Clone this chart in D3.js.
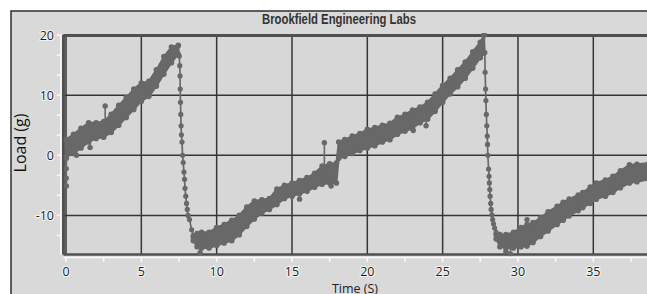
<!DOCTYPE html>
<html><head><meta charset="utf-8">
<script src="https://cdn.jsdelivr.net/npm/d3@7"></script>
<style>html,body{margin:0;padding:0;background:#fff;overflow:hidden}svg{display:block}</style>
</head><body>
<svg id="c" width="647" height="294"></svg>
<script>
// ---- data ----
const xTicks = [0, 5, 10, 15, 20, 25, 30, 35];
const yTicks = [-10, 0, 10, 20];

// ramp 1 (noisy band: low / high envelope)
const band1Time = [0, 0.5, 1, 1.5, 2, 2.5, 3, 3.5, 4, 4.5, 5, 5.5, 6, 6.5, 7, 7.45];
const band1Low  = [-0.3, 0.3, 1.2, 2.2, 2.8, 3, 3.8, 5, 6.3, 7.6, 9, 9.8, 11.5, 13.5, 15.4, 16.8];
const band1High = [2.6, 3.5, 4.5, 5.4, 5.4, 5.6, 6.8, 8.3, 9.6, 11, 12, 12.3, 14.2, 16.4, 18, 18.3];

// ramp 2
const band2Time = [8.45, 8.7, 9, 9.5, 10, 10.5, 11, 11.5, 12, 12.5, 13, 13.5, 14, 14.5, 15, 15.5, 16, 16.5, 17, 17.5, 17.95, 18.1, 18.5, 19, 19.5, 20, 20.5, 21, 21.5, 22, 22.5, 23, 23.5, 24, 24.5, 25, 25.5, 26, 26.5, 27, 27.5, 27.75];
const band2Low  = [-14.2, -15.2, -15.4, -15.4, -15, -14.6, -14.2, -13.2, -11.8, -10.6, -9.6, -9, -8.2, -7.2, -6.8, -6.4, -6, -5.3, -4.8, -4.6, -4.6, -0.5, -0.2, 0.3, 0.8, 1.2, 1.6, 2.2, 2.6, 3.5, 4, 4.5, 5.4, 6, 7.3, 8.8, 10.2, 11.4, 12.8, 14.5, 16.2, 17];
const band2High = [-13.6, -13, -12.8, -12.8, -12, -11.5, -10.8, -10, -8.6, -7.6, -7.4, -7.2, -5.6, -5, -4.6, -4.2, -3.7, -3, -1.8, -1.4, -1.3, 2.2, 2.6, 3.2, 3.6, 4.3, 4.6, 5, 5.3, 6.3, 6.8, 7.5, 8, 8.8, 10.2, 11.6, 12.8, 14.2, 15.5, 17.2, 18.8, 20];

// ramp 3
const band3Time = [28.55, 28.8, 29.2, 29.7, 30.2, 30.6, 31, 31.5, 32, 32.6, 33, 33.4, 34, 34.3, 34.8, 35.2, 35.8, 36.3, 36.8, 37.4, 37.9, 38.7];
const band3Low  = [-13.9, -15.2, -15.4, -15.4, -15.2, -15.1, -14.5, -13.5, -12.6, -11.5, -10.8, -10.1, -9.2, -8.7, -8, -7.3, -6.8, -6.2, -5.4, -4.6, -4.4, -4];
const band3High = [-13.2, -13.2, -13.2, -12.8, -12, -11.5, -11.2, -10.4, -9.4, -8.5, -7.8, -7.3, -6.6, -6.2, -5.3, -4.6, -4.1, -3.5, -2.6, -1.6, -1.5, -1.3];

// fast relaxations (individual samples)
const dip0Time = [0.05, 0.03, 0.02, 0.02, 0.03];
const dip0Load = [1.5, -0.5, -2.2, -3.8, -5.1];
const drop1Time = [7.45, 7.52, 7.55, 7.57, 7.58, 7.6, 7.62, 7.64, 7.66, 7.7, 7.74, 7.78, 7.83, 7.87, 7.9, 7.95, 8.0, 8.05, 8.1, 8.2, 8.34, 8.45, 8.56];
const drop1Load = [18.2, 16.5, 14.9, 13.2, 11, 8.8, 6.8, 4.9, 3.4, 2.2, 0, -1.2, -2.8, -4, -5.5, -6.8, -8, -9, -10, -10.7, -12.4, -13.3, -14];
const drop2Time = [27.75, 27.8, 27.82, 27.85, 27.87, 27.9, 27.93, 27.96, 27.98, 28.0, 28.05, 28.08, 28.1, 28.13, 28.15, 28.19, 28.22, 28.27, 28.32, 28.38, 28.45, 28.55, 28.65];
const drop2Load = [20, 17.1, 13.8, 11, 9.1, 6.8, 4.9, 3.2, 1.8, 0, -2.3, -3.5, -4.6, -5.7, -6.8, -8, -9, -9.9, -10.7, -11.4, -12.1, -12.8, -13.5];

// isolated outliers (sample value and the band value it springs from)
const spikeTime = [0.7, 1.6, 2.6, 8.9, 15.5, 17.15, 17.6, 23.05, 23.9, 29.2, 29.5, 30.6];
const spikeLoad = [0, 1.3, 8.2, -16.2, -7.3, 2.1, -5.1, 4.1, 4.9, -16, -16.4, -10.7];
const spikeBase = [1.5, 2.5, 5.5, -15, -6.4, -2.5, -4.6, 5, 6, -15, -15, -11.5];

// ---- drawing ----
const svg = d3.select("#c");
const W = 647, H = 294;
const x = d3.scaleLinear().domain([0, 35]).range([66, 593.3]);
const y = d3.scaleLinear().domain([-16.5, 20]).range([254.5, 35]);
const plotL = x(-0.17), plotT = y(20), plotB = y(-16.5), plotR = W + 10;

// outer panel
svg.append("rect").attr("x", 11).attr("y", 11).attr("width", W).attr("height", H)
  .attr("fill", "#d9d9d9").attr("stroke", "#2e2e2e").attr("stroke-width", 1.5);

// title
svg.append("text").attr("x", 339).attr("y", 23.5).attr("text-anchor", "middle")
  .attr("font-family", "'Liberation Sans Narrow', 'Liberation Sans', Arial, sans-serif")
  .attr("font-weight", "bold").attr("font-size", 14.5).attr("fill", "#333")
  .attr("textLength", 154).attr("lengthAdjust", "spacingAndGlyphs")
  .text("Brookfield Engineering Labs");

// plot area
svg.append("rect").attr("x", plotL).attr("y", plotT).attr("width", plotR - plotL).attr("height", plotB - plotT)
  .attr("fill", "#d7d7d7");

const defs = svg.append("defs");
defs.append("clipPath").attr("id", "clip").append("rect")
  .attr("x", plotL).attr("y", plotT - 2).attr("width", plotR - plotL).attr("height", plotB - plotT + 4);

// grid
const grid = svg.append("g").attr("stroke", "#363636").attr("stroke-width", 1.5);
xTicks.concat([40]).forEach(t => grid.append("line").attr("x1", x(t)).attr("x2", x(t)).attr("y1", plotT).attr("y2", plotB));
yTicks.forEach(v => grid.append("line").attr("x1", plotL).attr("x2", plotR).attr("y1", y(v)).attr("y2", y(v)));
// borders
svg.append("line").attr("x1", plotL).attr("x2", plotR).attr("y1", plotT + 0.5).attr("y2", plotT + 0.5).attr("stroke", "#505050").attr("stroke-width", 3);
svg.append("line").attr("x1", plotL).attr("x2", plotR).attr("y1", plotB).attr("y2", plotB).attr("stroke", "#505050").attr("stroke-width", 2.5);
svg.append("line").attr("x1", plotL).attr("x2", plotL).attr("y1", plotT).attr("y2", plotB).attr("stroke", "#505050").attr("stroke-width", 3);

// data
const col = "#686868";
const g = svg.append("g").attr("clip-path", "url(#clip)");
function band(ts, lo, hi) {
  const rows = ts.map((t, i) => ({t, lo: lo[i], hi: hi[i]}));
  const area = d3.area().x(d => x(d.t)).y0(d => y(d.lo)).y1(d => y(d.hi)).curve(d3.curveLinear);
  g.append("path").attr("d", area(rows)).attr("fill", col)
    .attr("stroke", col).attr("stroke-width", 2).attr("stroke-linejoin", "round");
  // scalloped edges: the individual samples on the envelope
  g.selectAll(null).data(rows.flatMap(d => [{t: d.t, v: d.lo}, {t: d.t, v: d.hi}])).enter()
    .append("circle").attr("cx", d => x(d.t)).attr("cy", d => y(d.v)).attr("r", 2.8).attr("fill", col);
}
band(band1Time, band1Low, band1High);
band(band2Time, band2Low, band2High);
band(band3Time, band3Low, band3High);

function samples(ts, vs) {
  const rows = ts.map((t, i) => ({t, v: vs[i]}));
  g.append("path").attr("d", d3.line().x(d => x(d.t)).y(d => y(d.v))(rows))
    .attr("fill", "none").attr("stroke", col).attr("stroke-width", 1.7);
  g.selectAll(null).data(rows).enter().append("circle")
    .attr("cx", d => x(d.t)).attr("cy", d => y(d.v)).attr("r", 2.6).attr("fill", col);
}
samples(dip0Time, dip0Load);
samples(drop1Time, drop1Load);
samples(drop2Time, drop2Load);

spikeTime.forEach((t, i) => {
  g.append("line").attr("x1", x(t)).attr("x2", x(t)).attr("y1", y(spikeBase[i])).attr("y2", y(spikeLoad[i]))
    .attr("stroke", col).attr("stroke-width", 1.6);
  g.append("circle").attr("cx", x(t)).attr("cy", y(spikeLoad[i])).attr("r", 2.7).attr("fill", col);
});

// axes (white lines with ticks)
const axW = svg.append("g").attr("stroke", "#fafafa").attr("stroke-width", 1.6);
const axY = plotB + 3;
axW.append("line").attr("x1", plotL).attr("x2", plotR).attr("y1", axY).attr("y2", axY);
d3.range(0, 40, 2.5).forEach(t => axW.append("line").attr("x1", x(t)).attr("x2", x(t)).attr("y1", axY).attr("y2", axY + 4.5));
const axX = plotL - 2.5;
axW.append("line").attr("x1", axX).attr("x2", axX).attr("y1", plotT).attr("y2", plotB);
d3.range(-40, 61, 10).map(v => v / 3).filter(v => v >= -16.5 && v <= 20.01)
  .forEach(v => axW.append("line").attr("x1", axX - 4).attr("x2", axX).attr("y1", y(v)).attr("y2", y(v)));

const lab = svg.append("g").attr("font-family", "'Open Sans', 'Noto Sans', sans-serif").attr("font-size", 12.5)
  .attr("fill", "#1e1e1e").attr("stroke", "#f4f4f4").attr("stroke-width", 2.2).attr("paint-order", "stroke");
xTicks.forEach(t => lab.append("text").attr("x", x(t)).attr("y", 276).attr("text-anchor", "middle").text(t));
yTicks.forEach(v => lab.append("text").attr("x", 54).attr("y", y(v) + 4.5).attr("text-anchor", "end").text(v));

svg.append("text").attr("transform", "translate(26,143) rotate(-90)").attr("text-anchor", "middle")
  .attr("font-family", "'Open Sans', 'Noto Sans', sans-serif").attr("font-size", 16).attr("fill", "#111")
  .text("Load (g)");
svg.append("text").attr("x", 355).attr("y", 292.5).attr("text-anchor", "middle")
  .attr("font-family", "'Open Sans', 'Noto Sans', sans-serif").attr("font-size", 12.5).attr("fill", "#222")
  .text("Time (S)");
</script>
</body></html>
